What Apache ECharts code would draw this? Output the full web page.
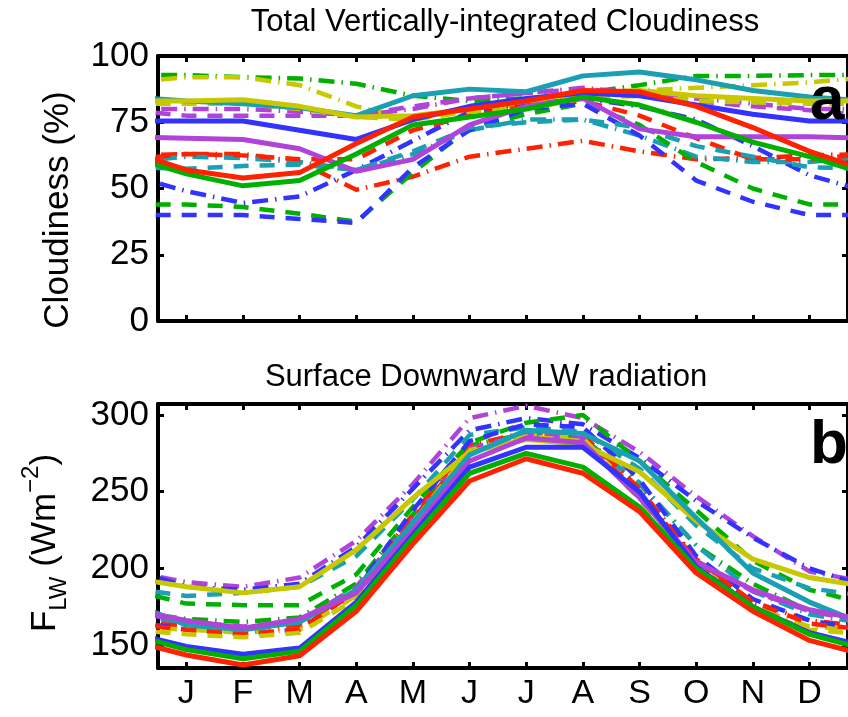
<!DOCTYPE html>
<html>
<head>
<meta charset="utf-8">
<script src="https://cdn.jsdelivr.net/npm/echarts@6/dist/echarts.min.js"></script>
<style>
  html, body { margin: 0; padding: 0; background: #fff; }
  #main { width: 848px; height: 717px; }
</style>
</head>
<body>
<div id="main"></div>
<script>
// month labels and tick positions
const MONTHS = ['J', 'F', 'M', 'A', 'M', 'J', 'J', 'A', 'S', 'O', 'N', 'D'];
const MONTH_POS = [1, 2, 3, 4, 5, 6, 7, 8, 9, 10, 11, 12];
const CLD_TICKS = [0, 25, 50, 75, 100];
const LW_TICKS = [150, 200, 250, 300];

// (a) total cloudiness, %, Jan..Dec
const cldRedSolid      = [57, 54, 56, 67, 77, 80, 83, 87, 86.5, 81, 73, 64];
const cldRedDashed     = [63, 62.5, 61, 61, 72, 77.5, 81, 83, 77.5, 69, 61, 61];
const cldRedDashDot    = [63, 63, 60, 49.5, 54.5, 62, 65, 68, 64, 61, 61.5, 62.5];
const cldGreenSolid    = [55.5, 51, 53, 63, 74, 77, 80, 84.5, 81.5, 75, 67.5, 62];
const cldGreenDashed   = [44, 43, 40.5, 37.5, 56, 73, 78, 82, 74, 60, 50, 44];
const cldGreenDashDot  = [92.8, 92, 91.5, 89.5, 85, 83, 84, 86, 89, 92.5, 92.5, 92.8];
const cldBlueSolid     = [75.5, 75.5, 72, 68.5, 76, 81, 84, 86, 85, 81.5, 78, 75.5];
const cldBlueDashed    = [40, 40, 38.5, 37, 58, 72, 80, 82, 70, 53, 45, 40];
const cldBlueDashDot   = [49, 44.5, 47, 57, 68, 79, 82, 84, 81, 76, 66, 55];
const cldCyanSolid     = [83, 82, 80.5, 77.5, 85, 87.5, 86.5, 92.5, 94, 91, 87, 84.5];
const cldCyanDashed    = [57.5, 58.5, 59, 57, 64, 73, 75, 76, 73, 66, 62, 58];
const cldCyanDashDot   = [62, 61.5, 60, 57, 63, 72, 76, 76, 70, 62, 60, 60];
const cldMagentaSolid  = [69, 68.5, 65, 56.5, 61, 74, 81, 84, 72.5, 69.5, 69.5, 69.5];
const cldMagentaDashed = [77.5, 77.5, 77.5, 77.5, 81, 84, 86, 87.5, 85.5, 83, 81, 79.5];
const cldMagentaDashDot= [80, 80, 79, 77.5, 80, 84, 86, 88, 86, 84, 82, 80];
const cldYellowSolid   = [83, 83.5, 81, 77, 77.5, 80, 83, 86, 87, 85, 84, 83];
const cldYellowDashed  = [82, 82, 80, 77, 76, 79, 80, 84, 85, 83, 82.5, 82];
const cldYellowDashDot = [92, 92, 89, 81, 76, 80, 82, 86, 87, 88, 89, 90];

// (b) surface downward LW radiation, W m-2, Jan..Dec
const lwRedSolid       = [143.5, 137, 143, 172, 216, 257, 271.5, 262, 237, 197, 172, 153];
const lwRedDashed      = [160, 157, 160, 185, 232, 277, 285, 282, 250, 205, 178, 164];
const lwRedDashDot     = [162, 158, 162, 186, 235, 280, 289, 287, 252, 206, 178, 166];
const lwGreenSolid     = [147, 141, 146, 176, 220, 262, 275, 266, 240, 200, 175, 157];
const lwGreenDashed    = [177, 176, 176, 196, 240, 282, 295, 300, 270, 238, 205, 186];
const lwGreenDashDot   = [167, 165, 168, 190, 235, 280, 288, 285, 255, 215, 190, 172];
const lwBlueSolid      = [149, 144, 148, 178, 222, 266, 279, 279, 250, 201, 175, 158];
const lwBlueDashed     = [160, 157, 160, 186, 238, 283, 294, 292, 258, 208, 180, 166];
const lwBlueDashDot    = [188, 186, 190, 214, 252, 290, 298, 294, 272, 244, 220, 200];
const lwCyanSolid      = [163, 160, 165, 186, 230, 274, 290, 288, 270, 233, 197, 178];
const lwCyanDashed     = [182, 184, 188, 208, 245, 287, 292, 289, 265, 228, 200, 187];
const lwCyanDashDot    = [164, 161, 164, 185, 230, 275, 287, 283, 256, 215, 185, 170];
const lwMagentaSolid   = [166, 161, 167, 184, 225, 270, 285, 282, 246, 204, 186, 173];
const lwMagentaDashed  = [165, 162, 165, 188, 232, 278, 288, 285, 248, 205, 185, 172];
const lwMagentaDashDot = [191, 188, 194, 218, 255, 298, 306, 298, 276, 247, 221, 198];
const lwYellowSolid    = [188, 184, 188, 212, 246, 276, 284, 281, 263, 231, 206, 194];
const lwYellowDashed   = [157, 155, 158, 180, 230, 277, 286, 283, 245, 200, 173, 160];
const lwYellowDashDot  = [160, 158, 160, 182, 228, 275, 287, 285, 247, 203, 175, 162];

const COLORS = {
  red: '#ff2200', green: '#00b000', blue: '#3333ff',
  cyan: '#1a9fb3', magenta: '#b044d8', yellow: '#c8c800'
};
const DASH = { solid: 'solid', dashed: [15, 11], dashdot: [16, 7, 1.5, 7] };

const FONT = '"Liberation Sans", Arial, Helvetica, sans-serif';

// cyclic: December repeated before January, January after December
function cyclic(vals) {
  const pts = [[0, vals[11]]];
  vals.forEach((v, i) => pts.push([i + 1, v]));
  pts.push([13, vals[0]]);
  return pts;
}

function line(name, vals, color, style, axisIdx) {
  return {
    name: name,
    type: 'line',
    xAxisIndex: axisIdx,
    yAxisIndex: axisIdx,
    data: cyclic(vals),
    symbol: 'none',
    silent: true,
    animation: false,
    z: style === 'solid' ? 4 : 3,
    lineStyle: {
      color: COLORS[color],
      width: style === 'solid' ? 5 : 4.5,
      type: DASH[style],
      cap: 'butt'
    }
  };
}

const cldSet = [
  ['cldGreenDashDot', cldGreenDashDot, 'green', 'dashdot'],
  ['cldYellowDashDot', cldYellowDashDot, 'yellow', 'dashdot'],
  ['cldRedDashDot', cldRedDashDot, 'red', 'dashdot'],
  ['cldBlueDashDot', cldBlueDashDot, 'blue', 'dashdot'],
  ['cldCyanDashDot', cldCyanDashDot, 'cyan', 'dashdot'],
  ['cldMagentaDashDot', cldMagentaDashDot, 'magenta', 'dashdot'],
  ['cldRedDashed', cldRedDashed, 'red', 'dashed'],
  ['cldGreenDashed', cldGreenDashed, 'green', 'dashed'],
  ['cldBlueDashed', cldBlueDashed, 'blue', 'dashed'],
  ['cldCyanDashed', cldCyanDashed, 'cyan', 'dashed'],
  ['cldMagentaDashed', cldMagentaDashed, 'magenta', 'dashed'],
  ['cldYellowDashed', cldYellowDashed, 'yellow', 'dashed'],
  ['cldCyanSolid', cldCyanSolid, 'cyan', 'solid'],
  ['cldYellowSolid', cldYellowSolid, 'yellow', 'solid'],
  ['cldBlueSolid', cldBlueSolid, 'blue', 'solid'],
  ['cldMagentaSolid', cldMagentaSolid, 'magenta', 'solid'],
  ['cldGreenSolid', cldGreenSolid, 'green', 'solid'],
  ['cldRedSolid', cldRedSolid, 'red', 'solid']
];
const lwSet = [
  ['lwMagentaDashDot', lwMagentaDashDot, 'magenta', 'dashdot'],
  ['lwBlueDashDot', lwBlueDashDot, 'blue', 'dashdot'],
  ['lwGreenDashDot', lwGreenDashDot, 'green', 'dashdot'],
  ['lwCyanDashDot', lwCyanDashDot, 'cyan', 'dashdot'],
  ['lwRedDashDot', lwRedDashDot, 'red', 'dashdot'],
  ['lwYellowDashDot', lwYellowDashDot, 'yellow', 'dashdot'],
  ['lwGreenDashed', lwGreenDashed, 'green', 'dashed'],
  ['lwCyanDashed', lwCyanDashed, 'cyan', 'dashed'],
  ['lwMagentaDashed', lwMagentaDashed, 'magenta', 'dashed'],
  ['lwBlueDashed', lwBlueDashed, 'blue', 'dashed'],
  ['lwRedDashed', lwRedDashed, 'red', 'dashed'],
  ['lwYellowDashed', lwYellowDashed, 'yellow', 'dashed'],
  ['lwYellowSolid', lwYellowSolid, 'yellow', 'solid'],
  ['lwCyanSolid', lwCyanSolid, 'cyan', 'solid'],
  ['lwMagentaSolid', lwMagentaSolid, 'magenta', 'solid'],
  ['lwBlueSolid', lwBlueSolid, 'blue', 'solid'],
  ['lwGreenSolid', lwGreenSolid, 'green', 'solid'],
  ['lwRedSolid', lwRedSolid, 'red', 'solid']
];

const series = [];
cldSet.forEach(s => series.push(line(s[0], s[1], s[2], s[3], 0)));
lwSet.forEach(s => series.push(line(s[0], s[1], s[2], s[3], 2)));

const AXIS_LINE = { show: true, onZero: false, lineStyle: { color: '#000', width: 4 } };
const TICK_STYLE = { color: '#000', width: 3 };

function xAx(grid, pos, labels) {
  return {
    gridIndex: grid, type: 'value', position: pos,
    min: 0.5, max: 12.68,
    axisLine: AXIS_LINE,
    axisTick: { show: true, inside: true, length: 6, lineStyle: TICK_STYLE, customValues: MONTH_POS },
    axisLabel: labels ? {
      show: true, customValues: MONTH_POS, margin: 9,
      formatter: v => MONTHS[Math.round(v) - 1],
      color: '#000', fontSize: 34, fontFamily: FONT
    } : { show: false },
    splitLine: { show: false }
  };
}
function yAx(grid, pos, min, max, ticks, labels) {
  return {
    gridIndex: grid, type: 'value', position: pos,
    min: min, max: max,
    axisLine: AXIS_LINE,
    axisTick: { show: true, inside: true, length: 6, lineStyle: TICK_STYLE, customValues: ticks },
    axisLabel: labels ? {
      show: true, customValues: ticks, margin: 9,
      color: '#000', fontSize: 35, fontFamily: FONT
    } : { show: false },
    splitLine: { show: false }
  };
}

const chart = echarts.init(document.getElementById('main'), null, { renderer: 'canvas' });
chart.setOption({
  backgroundColor: '#fff',
  animation: false,
  grid: [
    { left: 158, top: 56, width: 694, height: 265 },
    { left: 158, top: 404, width: 694, height: 264 }
  ],
  xAxis: [
    xAx(0, 'bottom', false), xAx(0, 'top', false),
    xAx(1, 'bottom', true), xAx(1, 'top', false)
  ],
  yAxis: [
    yAx(0, 'left', 0, 100, CLD_TICKS, true), yAx(0, 'right', 0, 100, CLD_TICKS, false),
    yAx(1, 'left', 135, 307.2, LW_TICKS, true), yAx(1, 'right', 135, 307.2, LW_TICKS, false)
  ],
  series: series,
  graphic: [
    {
      type: 'text', x: 505, y: 22, z: 10,
      style: { text: 'Total Vertically-integrated Cloudiness', font: '31px ' + FONT,
        fill: '#000', align: 'center', verticalAlign: 'middle', textAlign: 'center', textVerticalAlign: 'middle' }
    },
    {
      type: 'text', x: 486, y: 377, z: 10,
      style: { text: 'Surface Downward LW radiation', font: '31px ' + FONT,
        fill: '#000', align: 'center', verticalAlign: 'middle', textAlign: 'center', textVerticalAlign: 'middle' }
    },
    {
      type: 'text', x: 58, y: 210, rotation: Math.PI / 2, z: 10,
      style: { text: 'Cloudiness (%)', font: '35px ' + FONT,
        fill: '#000', align: 'center', verticalAlign: 'middle', textAlign: 'center', textVerticalAlign: 'middle' }
    },
    {
      type: 'text', x: 45, y: 543, rotation: Math.PI / 2, z: 10,
      style: {
        text: '{f|F}{s|LW}{f| (Wm}{p|−2}{f|)}',
        fill: '#000', align: 'center', verticalAlign: 'middle', textAlign: 'center', textVerticalAlign: 'middle',
        rich: {
          f: { fontSize: 35, fontFamily: FONT, lineHeight: 52, verticalAlign: 'middle' },
          s: { fontSize: 24, fontFamily: FONT, lineHeight: 26, verticalAlign: 'bottom' },
          p: { fontSize: 24, fontFamily: FONT, lineHeight: 26, verticalAlign: 'top' }
        }
      }
    },
    {
      type: 'text', x: 810, y: 102, z: 20,
      style: { text: 'a', font: 'bold 62px ' + FONT, fill: '#000',
        align: 'left', verticalAlign: 'middle', textAlign: 'left', textVerticalAlign: 'middle' }
    },
    {
      type: 'text', x: 810, y: 446, z: 20,
      style: { text: 'b', font: 'bold 62px ' + FONT, fill: '#000',
        align: 'left', verticalAlign: 'middle', textAlign: 'left', textVerticalAlign: 'middle' }
    }
  ]
});
</script>
</body>
</html>
